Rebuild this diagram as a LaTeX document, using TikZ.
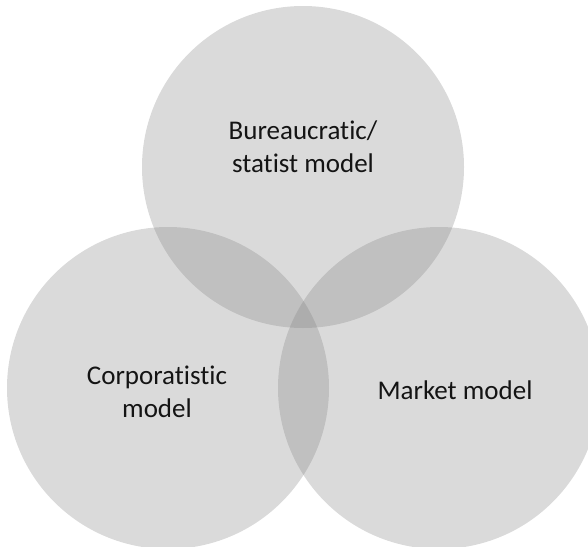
\documentclass[tikz,border=0pt]{standalone}
\usepackage{fontspec}
\setmainfont{Carlito}[Ligatures={NoCommon, NoContextual}]
\usepackage{tikz}
\usetikzlibrary{positioning}

\definecolor{setgray}{gray}{0.5}
\definecolor{labelink}{gray}{0.08}

\tikzset{
    setcircle/.style={circle, fill=setgray, fill opacity=0.29, draw=none,
    minimum size=322pt, inner sep=0pt},
    setlabel/.style={text=labelink, align=center, text opacity=1,
    font=\fontsize{27}{33}\selectfont}
}

\begin{document}
\begin{tikzpicture}[x=1pt, y=-1pt]

    %page frame, the right circle runs off the edge
    \useasboundingbox (0,0) rectangle (588,546);
    \clip (0,0) rectangle (588,546);

    %draws the three sets
    \node (bur) [setcircle] at (303,167) {};%top set
    \node (cor) [setcircle] at (168,388) {};%left set
    \node (mkt) [setcircle] at (439,388) {};%right set

    %labels each set
    \node (burtext) [setlabel, above=0pt of bur.center, anchor=center, yshift=20pt]{Bureaucratic/\\statist model};
    \node (cortext) [setlabel, left=0pt of cor.center, anchor=center, xshift=-11pt, yshift=-4pt]{Corporatistic\\model};
    \node (mkttext) [setlabel, right=0pt of mkt.center, anchor=center, xshift=16pt, yshift=-2pt]{Market model};

\end{tikzpicture}
\end{document}
